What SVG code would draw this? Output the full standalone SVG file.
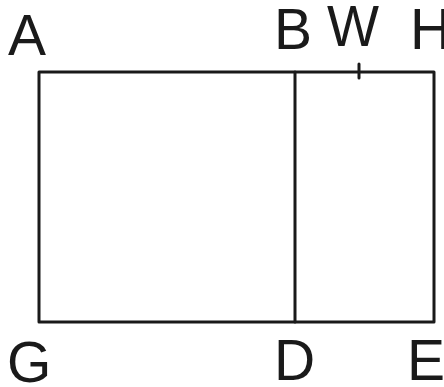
<svg xmlns="http://www.w3.org/2000/svg" width="444" height="387" viewBox="0 0 444 387">
<style>
.ln{fill:none;stroke:#1a1a1a;stroke-width:3;stroke-linecap:round;stroke-linejoin:round}
.lb{font-family:"Liberation Sans",Arial,sans-serif;font-size:57px;fill:#1a1a1a}
</style>
<rect width="444" height="387" fill="#fff"/>
<g id="figure">
<rect class="ln" x="39" y="72" width="395" height="250"/>
<line class="ln" x1="295" y1="72" x2="295" y2="322"/>
<line class="ln" x1="359" y1="64" x2="359" y2="78"/>
</g>
<g id="labels">
<text class="lb" x="8" y="55">A</text>
<text class="lb" x="274" y="49">B</text>
<text class="lb" x="327" y="46" textLength="52" lengthAdjust="spacingAndGlyphs">W</text>
<text class="lb" x="410" y="49">H</text>
<text class="lb" x="7" y="382">G</text>
<text class="lb" x="274" y="380">D</text>
<text class="lb" x="407" y="380">E</text>
</g>
</svg>
